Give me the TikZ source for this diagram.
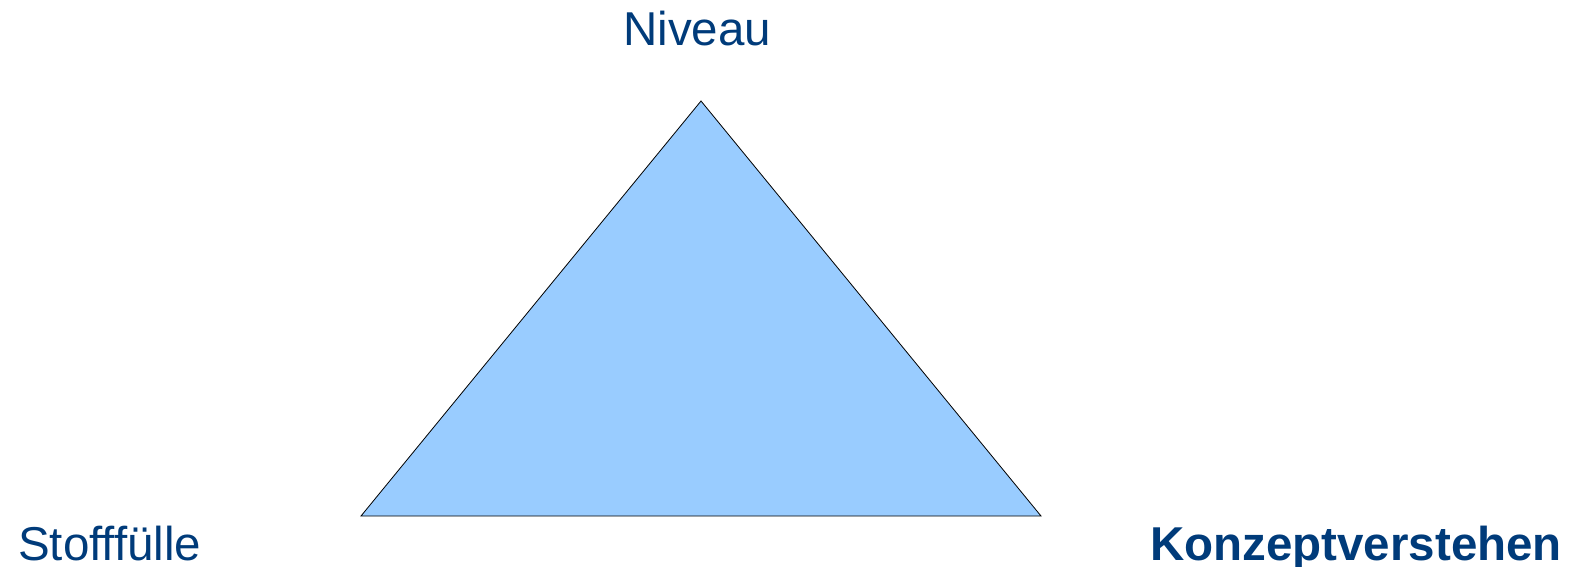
\documentclass[tikz,border=0pt]{standalone}
\usepackage{fontspec}
\setmainfont{Liberation Sans}
\definecolor{txtblue}{RGB}{0,59,122}
\definecolor{trifill}{RGB}{153,204,255}
\begin{document}
\begin{tikzpicture}[x=1pt,y=-1pt,
  lbl/.style={inner sep=0pt,anchor=base west,text=txtblue,font=\fontsize{47.5}{50}\selectfont}]
\useasboundingbox (0,0) rectangle (1581,567);
\coordinate (top) at (701,101);
\coordinate (bl) at (361,516);
\coordinate (br) at (1041,516);
\filldraw[fill=trifill,draw=black,line width=0.8pt,line join=miter] (top) -- (bl) -- (br) -- cycle;
\node[lbl] (niveau) at (623,46) {Niveau};
\node[lbl] (stoff) at (18,560) {Stofffülle};
\node[lbl,font=\fontsize{47.5}{50}\selectfont\bfseries] (konz) at (1150,560) {Konzeptverstehen};
\end{tikzpicture}
\end{document}
